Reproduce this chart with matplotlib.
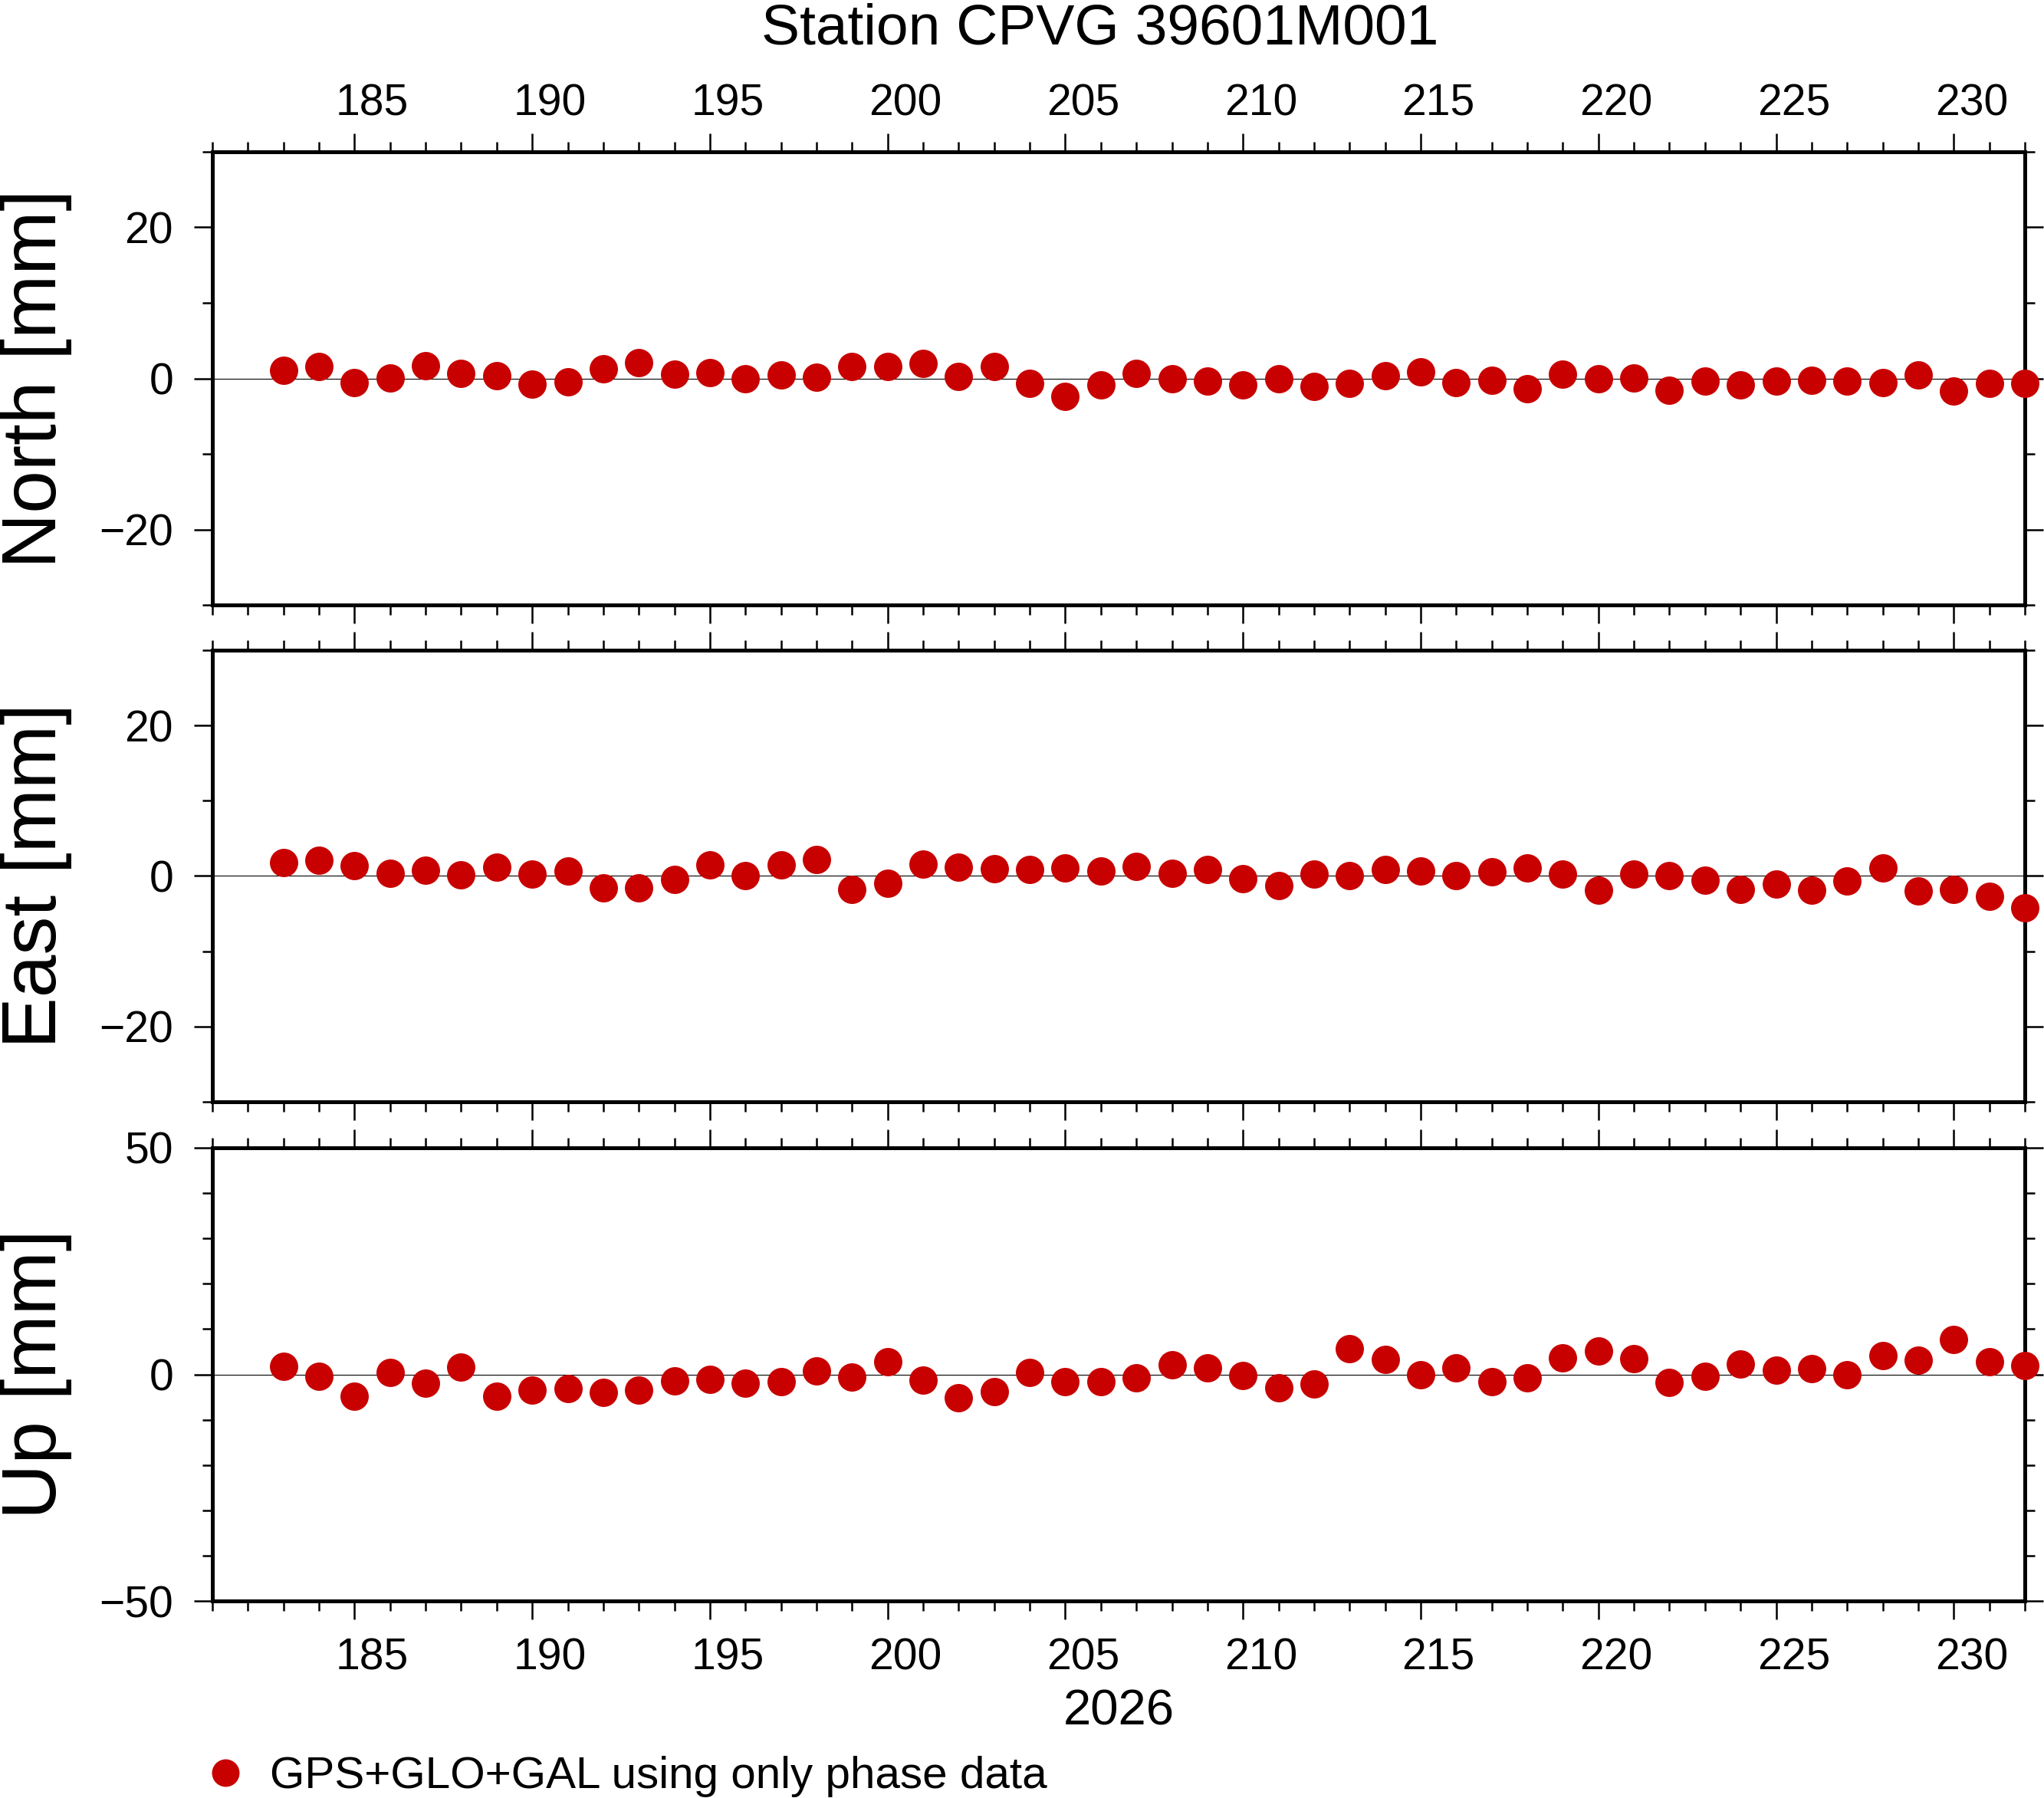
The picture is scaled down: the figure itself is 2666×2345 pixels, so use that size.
import matplotlib
matplotlib.use('Agg')
import matplotlib.pyplot as plt
import matplotlib.transforms as mtransforms
from matplotlib.ticker import MultipleLocator

plt.rcParams['font.family'] = ['Liberation Sans', 'DejaVu Sans']

# day of year 2026
days = list(range(183, 233))

north = [1.1, 1.6, -0.6, 0.1, 1.7, 0.7, 0.4, -0.8, -0.5, 1.3,
         2.1, 0.6, 0.8, -0.1, 0.5, 0.2, 1.6, 1.6, 2.0, 0.3,
         1.6, -0.7, -2.4, -0.9, 0.7, 0.0, -0.4, -0.9, -0.1, -1.1,
         -0.7, 0.4, 0.9, -0.6, -0.3, -1.4, 0.6, -0.1, 0.1, -1.6,
         -0.4, -0.9, -0.4, -0.3, -0.4, -0.6, 0.5, -1.7, -0.7, -0.7]

east = [1.8, 2.1, 1.4, 0.4, 0.8, 0.2, 1.2, 0.3, 0.7, -1.6,
        -1.6, -0.5, 1.5, 0.0, 1.5, 2.2, -1.8, -1.0, 1.6, 1.2,
        1.0, 0.9, 1.1, 0.7, 1.3, 0.4, 0.9, -0.4, -1.3, 0.3,
        0.0, 0.9, 0.7, 0.0, 0.6, 1.1, 0.3, -1.9, 0.3, 0.1,
        -0.6, -1.8, -1.1, -1.9, -0.7, 1.1, -2.0, -1.8, -2.7, -4.2]

up = [1.7, -0.5, -4.8, 0.4, -1.9, 1.6, -4.8, -3.4, -3.2, -4.0,
      -3.4, -1.5, -1.1, -1.9, -1.6, 0.7, -0.6, 2.8, -1.3, -5.2,
      -3.8, 0.5, -1.6, -1.6, -0.7, 2.1, 1.4, -0.3, -3.0, -2.1,
      5.6, 3.3, 0.0, 1.4, -1.6, -0.7, 3.6, 5.2, 3.4, -1.8,
      -0.5, 2.2, 1.0, 1.2, 0.0, 4.1, 3.1, 7.7, 2.8, 2.0]

major_days = [185, 190, 195, 200, 205, 210, 215, 220, 225, 230]
labels = ['North [mm]', 'East [mm]', 'Up [mm]']
ylims = [(-30, 30), (-30, 30), (-50, 50)]
ymajor = [20, 20, 50]
red = '#c80000'

W, H = 2666, 2345
fig = plt.figure(figsize=(W / 100, H / 100), dpi=100)

left, right = 277 / W, 2641 / W
rows = [(198, 789), (848, 1437), (1497, 2088)]

axes = []
for i, (top_px, bot_px) in enumerate(rows):
    ax = fig.add_axes([left, 1 - bot_px / H, right - left, (bot_px - top_px) / H])
    axes.append(ax)
    vals = [north, east, up][i]
    ax.axhline(0, color='black', lw=0.8, zorder=1)
    line, = ax.plot(days, vals, 'o', color=red, ms=26.6, mec='none',
                    clip_on=False, zorder=5)
    ax.set_xlim(181, 232)
    ax.set_ylim(*ylims[i])
    ax.set_xticks(major_days)
    ax.xaxis.set_minor_locator(MultipleLocator(1))
    ax.yaxis.set_major_locator(MultipleLocator(ymajor[i]))
    ax.yaxis.set_minor_locator(MultipleLocator(10))
    for s in ax.spines.values():
        s.set_linewidth(3.6)
    ax.tick_params(which='both', direction='out', top=True, right=True,
                   width=1.8, labelsize=41, labelbottom=(i == 2),
                   labeltop=(i == 0))
    ax.tick_params(which='major', length=17.3)
    ax.tick_params(which='minor', length=9.4)
    ax.tick_params(axis='y', pad=19.4)
    ax.tick_params(axis='x', pad=8 if i == 0 else 17)

    fig.text(73 / W, 1 - (top_px + bot_px) / 2 / H, labels[i], rotation=90,
             rotation_mode='anchor', ha='center', va='baseline', fontsize=72)

    # GMT centres day labels on the day interval
    offset = mtransforms.ScaledTranslation(0.5 * (right - left) * W / 51 / 100, 0,
                                           fig.dpi_scale_trans)
    for t in ax.xaxis.get_major_ticks():
        t.label1.set_transform(t.label1.get_transform() + offset)
        t.label2.set_transform(t.label2.get_transform() + offset)

fig.text(1435 / W, 1 - 57 / H, 'Station CPVG 39601M001', ha='center',
         va='baseline', fontsize=54)
fig.text(1459 / W, 1 - 2250 / H, '2026', ha='center', va='baseline', fontsize=47)

fig.legend([line], ['GPS+GLO+GAL using only phase data'], loc='center left',
           bbox_to_anchor=(276 / W, 1 - 2317 / H), bbox_transform=fig.transFigure,
           frameon=False, fontsize=42, handlelength=0.6, handletextpad=0.7,
           borderpad=0, borderaxespad=0, markerscale=36 / 37, numpoints=1)

fig.savefig('out.png', dpi=100)
